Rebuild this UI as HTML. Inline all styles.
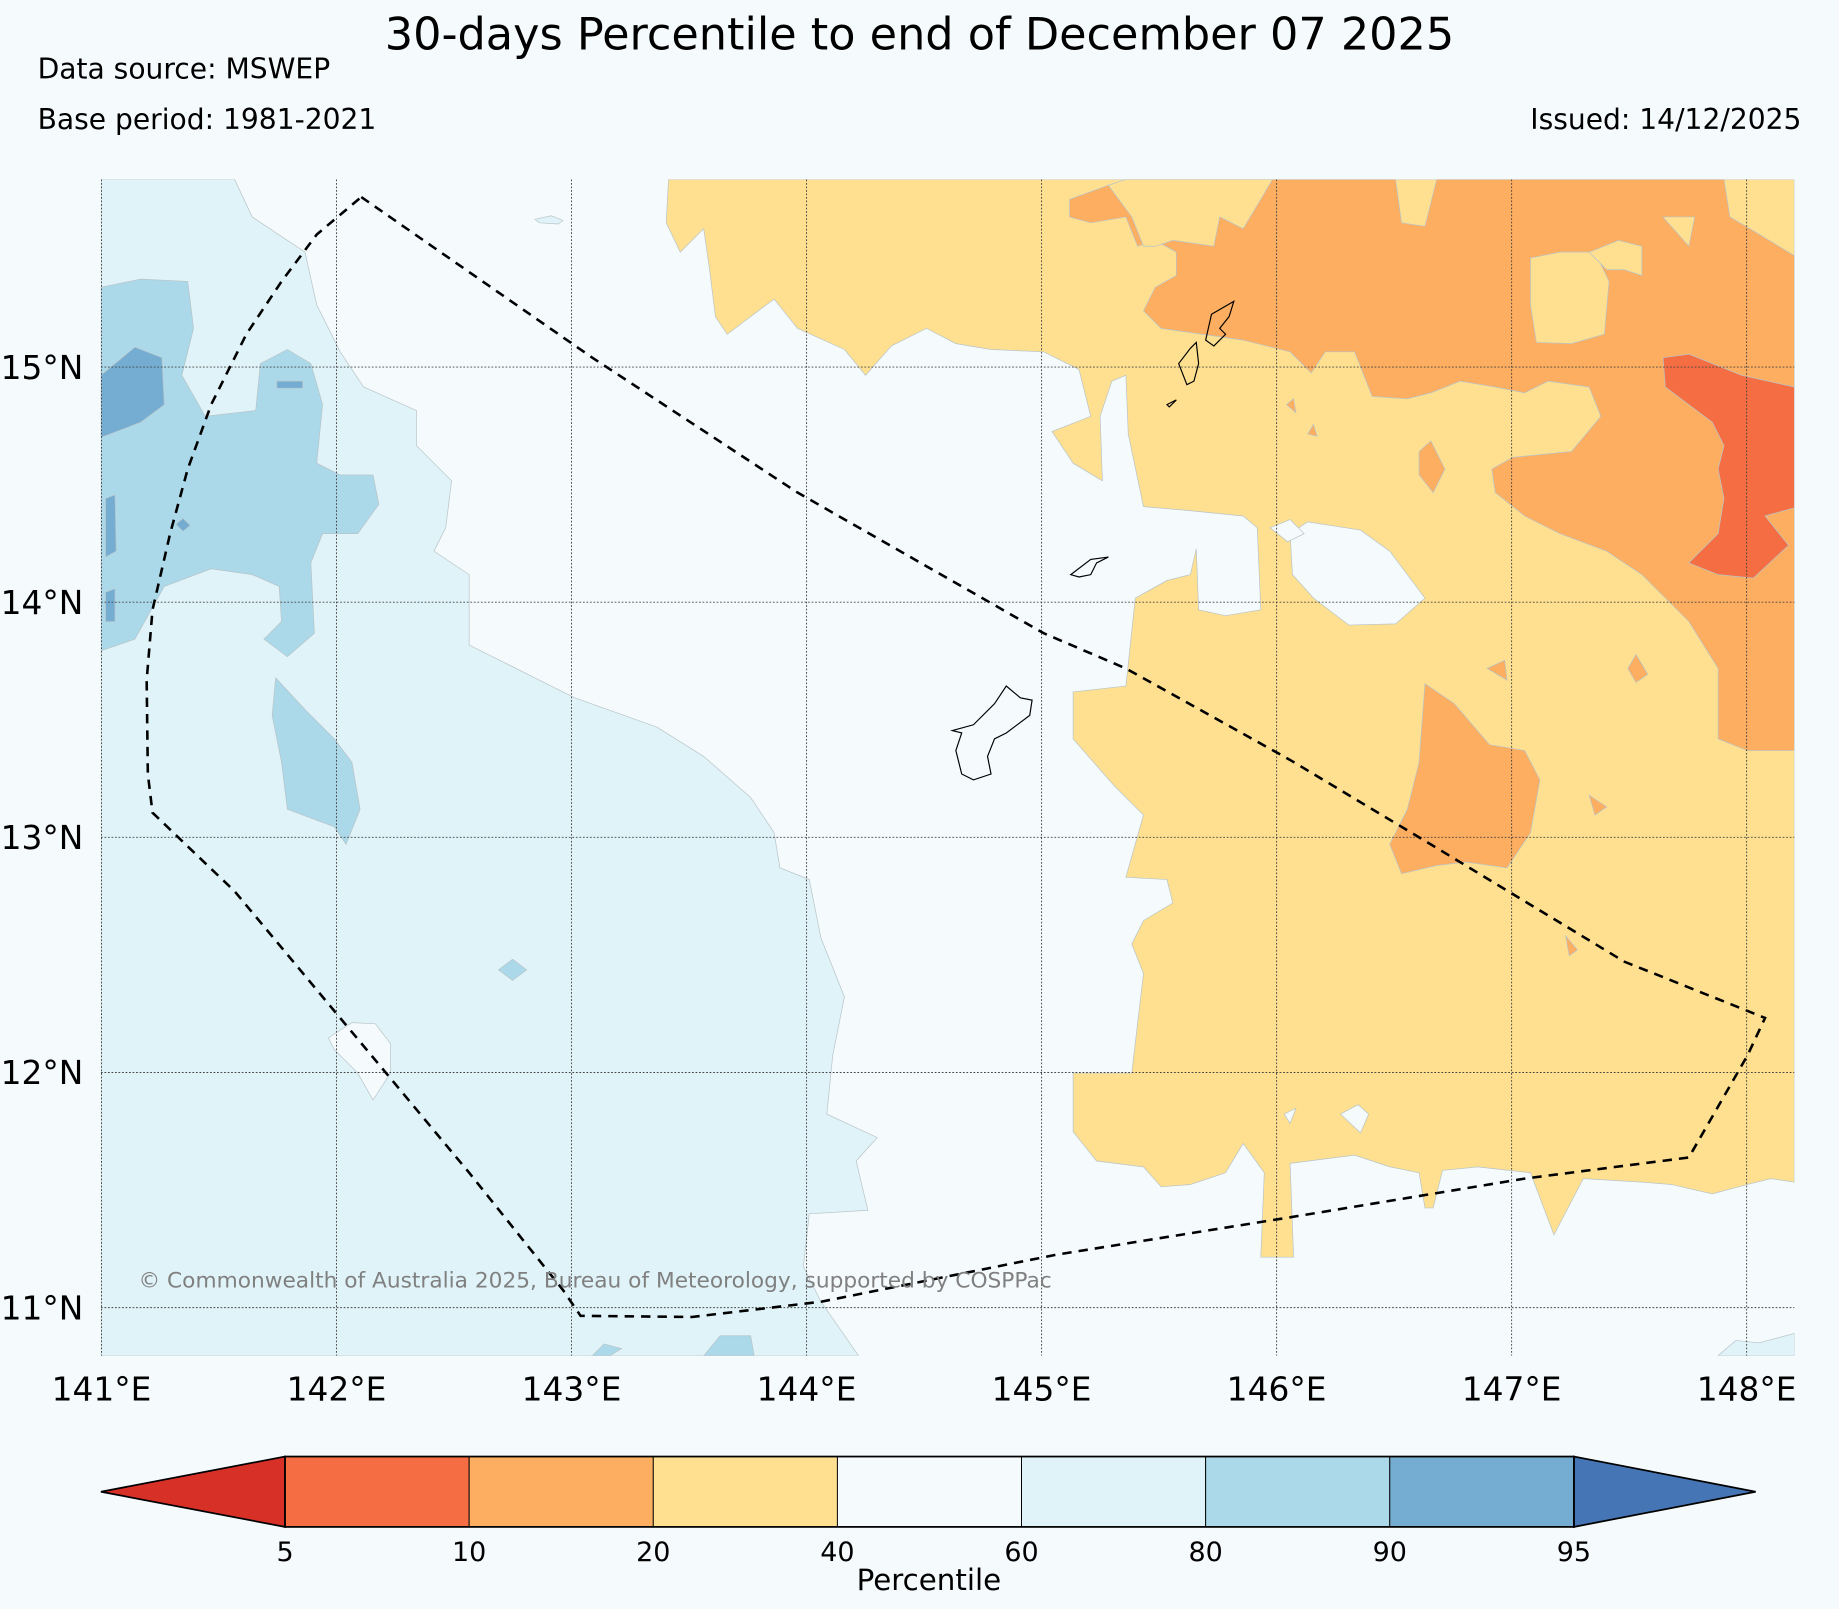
<!DOCTYPE html>
<html><head><meta charset="utf-8"><style>
html,body{margin:0;padding:0;background:#f5fbfd;}
svg{display:block;font-family:"DejaVu Sans","Liberation Sans",sans-serif;}
</style></head><body>
<svg id="c" width="1839" height="1609" viewBox="0 0 1568 1372" xmlns="http://www.w3.org/2000/svg">
<rect width="1568" height="1372" fill="#f5fbfd"/>
<text x="784" y="42" font-size="38" text-anchor="middle">30-days Percentile to end of December 07 2025</text>
<text x="32" y="67" font-size="24">Data source: MSWEP</text>
<text x="32" y="110" font-size="24">Base period: 1981-2021</text>
<text x="1536" y="110" font-size="24" text-anchor="end">Issued: 14/12/2025</text>
<defs><clipPath id="mc"><rect x="86" y="153" width="1444" height="1003"/></clipPath></defs>
<g id="map" clip-path="url(#mc)"></g>
<g id="axes"></g>
<g id="cbar"></g>
</svg>
<script>
const lonTicks=[141,142,143,144,145,146,147,148];
const latTicks=[11,12,13,14,15];
const cbBounds=[5,10,20,40,60,80,90,95];
const cbColors=["#f46d43","#fdae61","#fee090","#f5fbfd","#e0f3f8","#abd9e9","#74add1"];
const cbLow="#d73027", cbHigh="#4575b4";
const X0=86.5, Y15=313, PX=200.4, PY=200.5;
function xS(lon){return X0+(lon-141)*PX;}
function yS(lat){return Y15-(lat-15)*PY;}
const regions=[
{c:"#e0f3f8",p:[[86,153],[200,153],[215,185],[260,215],[270,260],[290,300],[310,330],[355,350],[355,380],[385,410],[380,450],[370,470],[400,490],[400,550],[430,565],[460,580],[490,595],[560,620],[600,645],[640,680],[660,710],[665,740],[690,750],[700,800],[720,850],[710,900],[705,950],[748,970],[730,990],[740,1032],[690,1035],[685,1080],[700,1110],[732,1156],[86,1156]]},
{c:"#f5fbfd",p:[[280,885],[300,872],[320,873],[333,890],[333,915],[318,938],[305,915],[285,895]]},
{c:"#e0f3f8",p:[[1465,1156],[1480,1143],[1500,1145],[1530,1137],[1530,1156]]},
{c:"#e0f3f8",p:[[456,187],[470,184],[480,188],[476,191],[460,190]]},
{c:"#abd9e9",p:[[86,245],[120,238],[160,240],[165,280],[155,320],[175,355],[218,350],[222,310],[245,298],[265,310],[275,345],[270,395],[290,405],[318,405],[323,430],[305,455],[275,455],[265,480],[268,540],[245,560],[225,545],[240,530],[238,500],[215,490],[180,485],[140,500],[115,545],[86,555]]},
{c:"#abd9e9",p:[[235,578],[260,605],[285,630],[300,650],[307,690],[295,720],[285,705],[245,690],[240,650],[232,610]]},
{c:"#abd9e9",p:[[437,818],[449,827],[437,836],[425,827]]},
{c:"#abd9e9",p:[[505,1156],[515,1146],[530,1150],[520,1156]]},
{c:"#abd9e9",p:[[600,1156],[614,1139],[640,1139],[643,1156]]},
{c:"#74add1",p:[[86,320],[115,296],[138,305],[140,345],[120,360],[86,373]]},
{c:"#74add1",p:[[90,425],[98,422],[99,470],[90,475]]},
{c:"#74add1",p:[[90,505],[98,502],[98,530],[90,530]]},
{c:"#74add1",p:[[236,325],[258,325],[258,331],[236,331]]},
{c:"#74add1",p:[[150,447],[156,442],[162,448],[156,453]]},
{c:"#fee090",p:[[570,153],[1530,153],[1530,1008],[1510,1005],[1490,1010],[1460,1018],[1425,1010],[1400,1008],[1350,1005],[1325,1053],[1305,1000],[1260,995],[1230,998],[1222,1030],[1215,1030],[1210,1000],[1185,995],[1155,985],[1100,992],[1103,1072],[1075,1072],[1078,1000],[1060,975],[1045,1000],[1015,1010],[990,1012],[975,995],[935,990],[915,965],[915,915],[965,915],[975,830],[965,805],[975,785],[1000,770],[995,750],[960,748],[975,695],[950,670],[915,630],[915,590],[960,585],[968,510],[995,495],[1015,490],[1020,468],[1022,520],[1045,525],[1075,520],[1072,450],[1060,440],[1010,435],[975,432],[962,370],[960,320],[948,325],[938,355],[940,410],[915,395],[897,368],[930,355],[920,315],[890,300],[845,298],[815,293],[790,280],[760,295],[738,320],[720,298],[680,280],[660,255],[620,285],[610,270],[605,230],[600,195],[580,215],[568,190]]},
{c:"#f5fbfd",p:[[1100,455],[1115,445],[1160,452],[1185,470],[1215,510],[1190,532],[1150,533],[1120,510],[1102,490]]},
{c:"#f5fbfd",p:[[1083,450],[1100,443],[1112,455],[1098,462]]},
{c:"#f5fbfd",p:[[1095,950],[1105,945],[1100,958]]},
{c:"#f5fbfd",p:[[1143,950],[1158,942],[1167,950],[1160,966]]},
{c:"#fdae61",p:[[912,170],[945,158],[960,153],[1085,153],[1190,153],[1195,190],[1215,193],[1225,153],[1470,153],[1475,185],[1492,195],[1530,218],[1530,640],[1490,640],[1465,630],[1465,570],[1440,530],[1400,490],[1370,470],[1330,455],[1300,440],[1275,420],[1272,400],[1290,390],[1340,385],[1365,355],[1355,330],[1320,325],[1300,335],[1275,330],[1245,325],[1220,335],[1200,340],[1170,338],[1155,300],[1130,300],[1118,318],[1100,300],[1060,290],[1025,285],[990,280],[975,265],[985,245],[1003,235],[1003,215],[985,205],[970,210],[960,185],[930,190],[912,185]]},
{c:"#fee090",p:[[960,153],[1085,153],[1075,170],[1060,195],[1040,185],[1035,210],[1000,205],[985,210],[975,210],[965,185],[945,158]]},
{c:"#fee090",p:[[1305,220],[1330,215],[1360,215],[1372,240],[1368,285],[1340,293],[1310,292],[1305,260]]},
{c:"#fee090",p:[[1418,185],[1445,185],[1440,210]]},
{c:"#fee090",p:[[1355,215],[1380,205],[1400,210],[1400,235],[1385,230],[1370,230]]},
{c:"#fdae61",p:[[1215,583],[1240,600],[1270,635],[1300,640],[1313,665],[1305,710],[1285,740],[1250,735],[1225,738],[1195,745],[1185,720],[1200,690],[1210,650]]},
{c:"#fdae61",p:[[1268,570],[1283,563],[1285,580]]},
{c:"#fdae61",p:[[1395,558],[1405,575],[1395,582],[1388,570]]},
{c:"#fdae61",p:[[1355,678],[1370,688],[1360,695]]},
{c:"#fdae61",p:[[1335,798],[1345,810],[1338,815]]},
{c:"#fdae61",p:[[1210,385],[1220,376],[1232,400],[1222,420],[1210,405]]},
{c:"#fdae61",p:[[1115,370],[1120,362],[1123,372]]},
{c:"#fdae61",p:[[1097,345],[1103,340],[1105,352]]},
{c:"#f46d43",p:[[1418,305],[1440,302],[1460,310],[1485,320],[1530,330],[1530,433],[1505,440],[1525,465],[1495,493],[1465,490],[1440,480],[1465,455],[1470,425],[1465,400],[1470,380],[1460,360],[1440,345],[1420,330]]}
];
const coasts=[
[[812,623],[830,618],[848,600],[858,585],[870,595],[880,597],[878,610],[858,625],[848,630],[842,645],[845,660],[830,665],[820,660],[815,640],[820,625]],
[[1005,310],[1015,297],[1020,292],[1022,310],[1018,325],[1012,328]],
[[995,345],[1003,341],[997,347]],
[[913,490],[930,477],[945,475],[935,480],[930,490],[920,492]],
[[1028,290],[1033,268],[1052,257],[1048,270],[1040,280],[1045,285],[1035,295]]
];
const track=[[308,168],[505,305],[680,420],[890,540],[960,570],[1100,648],[1220,720],[1385,820],[1505,868],[1490,900],[1440,987],[1300,1005],[1100,1038],[900,1070],[700,1110],[590,1123],[495,1122],[480,1100],[400,1000],[200,760],[130,693],[126,660],[125,580],[130,520],[145,455],[160,400],[180,345],[210,285],[240,240],[270,200],[308,168]];
const NS="http://www.w3.org/2000/svg";
function mk(t,a,par){const e=document.createElementNS(NS,t);for(const k in a)e.setAttribute(k,a[k]);par.appendChild(e);return e;}
const map=document.getElementById('map'),axes=document.getElementById('axes'),cb=document.getElementById('cbar');
const pt=p=>p.map(q=>q[0]+','+q[1]).join(' ');
regions.forEach((r,i)=>{const e=mk('polygon',{points:pt(r.p),fill:r.c,stroke:'#b8c4c8','stroke-width':0.6},map);

});
coasts.forEach(c=>{const e=mk('polygon',{points:pt(c),fill:'none',stroke:'#000','stroke-width':1},map);

});
lonTicks.forEach(l=>{const x=xS(l);const g=mk('line',{x1:x,x2:x,y1:153,y2:1156,stroke:'#444','stroke-width':0.8,'stroke-dasharray':'1.5,1.5'},map);


const t=mk('text',{x:x,y:1194,'font-size':28,'text-anchor':'middle'},axes);t.textContent=l+'°E';

});
latTicks.forEach(l=>{const y=yS(l);const g=mk('line',{x1:86,x2:1530,y1:y,y2:y,stroke:'#444','stroke-width':0.8,'stroke-dasharray':'1.5,1.5'},map);


const t=mk('text',{x:71,y:y+10,'font-size':28,'text-anchor':'end'},axes);t.textContent=l+'°N';

});
const tr=mk('polyline',{points:pt(track),fill:'none',stroke:'#000','stroke-width':2.2,'stroke-dasharray':'8,6'},map);


const cp=mk('text',{x:118,y:1098,'font-size':18.5,fill:'#808080'},map);cp.textContent='© Commonwealth of Australia 2025, Bureau of Meteorology, supported by COSPPac';


const cx0=243,cw=157,cy0=1242,ch=60;
const lt=mk('polygon',{points:`86,${cy0+ch/2} ${cx0},${cy0} ${cx0},${cy0+ch}`,fill:cbLow,stroke:'#000','stroke-width':1.5},cb);


const rt=mk('polygon',{points:`1497,${cy0+ch/2} ${cx0+cw*cbColors.length},${cy0} ${cx0+cw*cbColors.length},${cy0+ch}`,fill:cbHigh,stroke:'#000','stroke-width':1.5},cb);


cbColors.forEach((c,i)=>{const r=mk('rect',{x:cx0+i*cw,y:cy0,width:cw,height:ch,fill:c,stroke:'#000','stroke-width':0.8},cb);

});
mk('rect',{x:cx0,y:cy0,width:cw*cbColors.length,height:ch,fill:'none',stroke:'#000','stroke-width':1.5},cb);
cbBounds.forEach((b,i)=>{const t=mk('text',{x:cx0+i*cw,y:1331,'font-size':23,'text-anchor':'middle'},cb);t.textContent=b;

});
const ct=mk('text',{x:792,y:1356,'font-size':25,'text-anchor':'middle'},cb);ct.textContent='Percentile';


</script>
</body></html>
